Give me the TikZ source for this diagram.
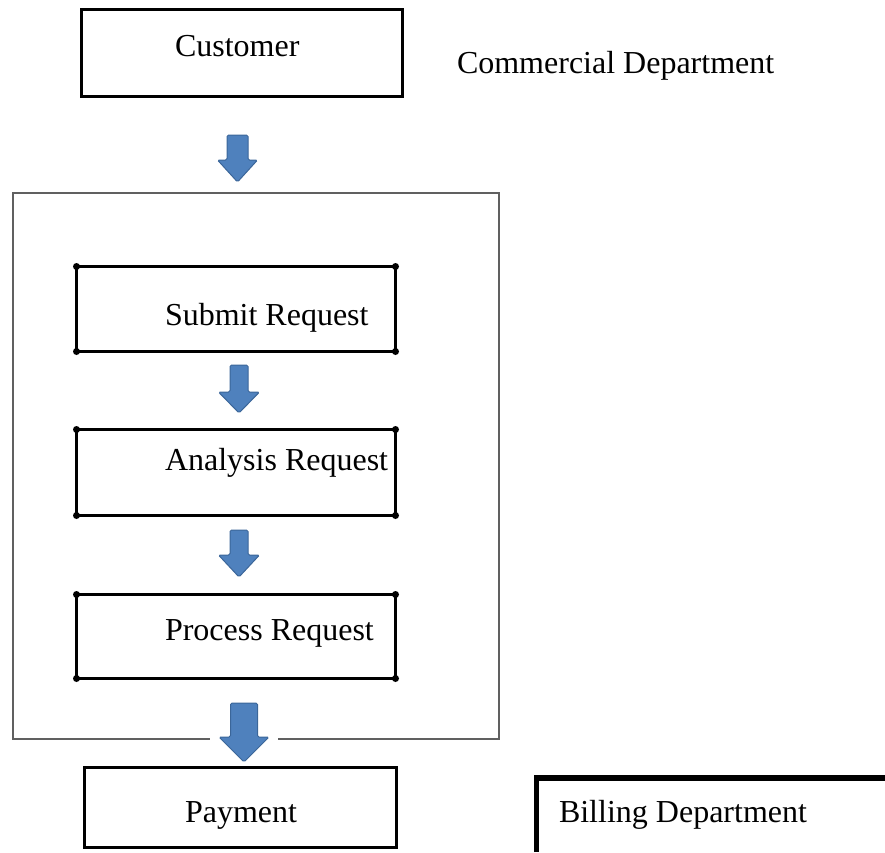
\documentclass[tikz,border=0pt]{standalone}
\usepackage{fontspec}
\setmainfont{Liberation Serif}
\usetikzlibrary{calc}
\definecolor{arrowfill}{HTML}{4F81BD}
\definecolor{arrowedge}{HTML}{3B6699}
\tikzset{
  label text/.style={inner sep=0pt, outer sep=0pt, font=\fontsize{32}{37}\selectfont},
  box/.style={draw=black, line width=3pt, outer sep=0pt, inner sep=0pt},
  frame/.style={draw=gray!75!black, line width=2pt},
  cornerdot/.style={fill=black},
  pics/blockarrow/.style n args={4}{code={
    \filldraw[fill=arrowfill, draw=arrowedge, line width=1pt, rounded corners=1.5pt]
      (-#1,0) -- (#1,0) -- (#1,#3) -- (#2,#3) -- (0,#4) -- (-#2,#3) -- (-#1,#3) -- cycle;
  }}
}
\begin{document}
\begin{tikzpicture}[x=1pt, y=-1pt]
\useasboundingbox (0,0) rectangle (885,852);

% customer and department heading
\node[box, minimum width=321pt, minimum height=87pt] (customer) at (242,53) {};
\node[label text, anchor=base west] (customertext) at (175,56) {Customer};
\node[label text, anchor=base west] (commercial) at (457,73) {Commercial Department};

% arrow from customer into the department
\pic at (237.5,135) {blockarrow={10.5}{20}{25}{47}};

% department frame
\draw[frame] (13,193) rectangle (499,739);

% request steps
\node[box, minimum width=319pt, minimum height=85pt] (submit) at (236,309) {};
\node[box, minimum width=319pt, minimum height=86pt] (analysis) at (236,472.5) {};
\node[box, minimum width=319pt, minimum height=84pt] (process) at (236,636.5) {};
\foreach \b in {submit,analysis,process}{
  \foreach \c in {north west,north east,south west,south east}{
    \fill[cornerdot] (\b.\c) circle (3.5pt);
  }
}
\node[label text, anchor=base west] (submittext) at (165,325) {Submit Request};
\node[label text, anchor=base west] (analysistext) at (165,470) {Analysis Request};
\node[label text, anchor=base west] (processtext) at (165,640) {Process Request};

\pic at (239,365) {blockarrow={9}{20.5}{27}{48}};
\pic at (239,530) {blockarrow={9}{20.5}{25}{47}};

% arrow leaving the department towards payment
\fill[white] (210,732) rectangle (278,748);
\pic at (244,703) {blockarrow={13.5}{25}{34}{59}};

% payment
\node[box, minimum width=312pt, minimum height=80pt] (payment) at (240.5,807.5) {};
\node[label text, anchor=base west] (paymenttext) at (185,822) {Payment};

% billing department
\coordinate (billcorner) at (536.5,778);
\draw[line width=5.5pt] (billcorner |- 0,852) -- (billcorner) -- (885,778);
\node[label text, anchor=base west] (billing) at (559,822) {Billing Department};
\end{tikzpicture}
\end{document}
